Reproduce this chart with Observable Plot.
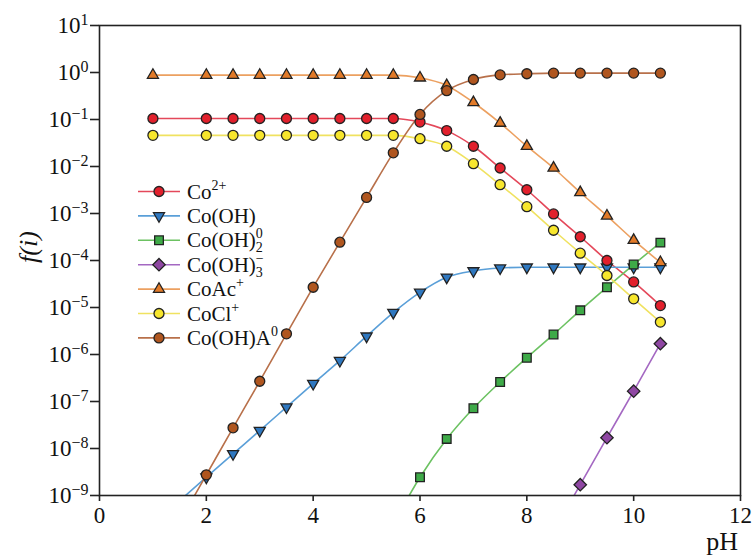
<!DOCTYPE html>
<html><head><meta charset="utf-8">
<script src="https://cdn.jsdelivr.net/npm/d3@7"></script>
<script src="https://cdn.jsdelivr.net/npm/@observablehq/plot@0.6"></script>
<style>html,body{margin:0;padding:0;background:#fff} svg{display:block} #chart svg, #chart svg text {font-family: "Liberation Serif", Tinos, "Times New Roman", serif !important;}</style>
</head><body><div id="chart"></div>
<script>
// ---- data ----
const pH = [1, 2, 2.5, 3, 3.5, 4, 4.5, 5, 5.5, 6, 6.5, 7, 7.5, 8, 8.5, 9, 9.5, 10, 10.5];
const co2   = [0.105, 0.105, 0.105, 0.105, 0.105, 0.105, 0.105, 0.105, 0.105, 0.088, 0.058, 0.027, 0.0093, 0.0032, 9.8e-4, 3.2e-4, 1.0e-4, 3.5e-5, 1.1e-5];
const coOH  = [2.45e-10, 2.45e-9, 7.7e-9, 2.4e-8, 7.6e-8, 2.4e-7, 7.4e-7, 2.45e-6, 7.8e-6, 2.1e-5, 4.4e-5, 6.0e-5, 6.9e-5, 7.2e-5, 7.2e-5, 7.2e-5, 7.2e-5, 7.2e-5, 7.2e-5];
const coOH2 = [null, null, null, null, null, null, null, null, 2.45e-10, 2.45e-9, 1.6e-8, 7.2e-8, 2.6e-7, 8.5e-7, 2.67e-6, 8.7e-6, 2.7e-5, 8.2e-5, 2.4e-4];
const coOH3 = [null, null, null, null, null, null, null, null, null, null, null, null, null, null, 1.7e-10, 1.7e-9, 1.7e-8, 1.66e-7, 1.7e-6];
const coAc  = [0.88, 0.88, 0.88, 0.88, 0.88, 0.88, 0.88, 0.88, 0.88, 0.77, 0.53, 0.23, 0.084, 0.027, 0.0093, 0.0028, 8.9e-4, 2.7e-4, 9.1e-5];
const coCl  = [0.046, 0.046, 0.046, 0.046, 0.046, 0.046, 0.046, 0.046, 0.046, 0.039, 0.027, 0.0115, 0.0041, 0.0014, 4.4e-4, 1.43e-4, 4.8e-5, 1.53e-5, 4.9e-6];
const coOHA = [2.75e-11, 2.75e-9, 2.75e-8, 2.7e-7, 2.75e-6, 2.7e-5, 2.45e-4, 2.2e-3, 0.0195, 0.128, 0.41, 0.71, 0.89, 0.94, 0.97, 0.97, 0.97, 0.97, 0.97];

const xTicks = [0, 2, 4, 6, 8, 10, 12];
const yExponents = [1, 0, -1, -2, -3, -4, -5, -6, -7, -8, -9];
const xLabel = "pH";

// ---- styles ----
const FONT = '"Liberation Serif", Tinos, "Times New Roman", serif';
const triDown = {
  draw(ctx, size) {
    const y = -Math.sqrt(size / (Math.sqrt(3) * 3));
    ctx.moveTo(0, -y * 2);
    ctx.lineTo(-Math.sqrt(3) * y, y);
    ctx.lineTo(Math.sqrt(3) * y, y);
    ctx.closePath();
  }
};
const symbols = {circle: d3.symbolCircle, triangle: d3.symbolTriangle, square: d3.symbolSquare, diamond: d3.symbolDiamond2, triDown};

const series = [
  {values: co2,   parts: [["Co"], ["2+", "sup"]],                           fill: "#e2202c", line: "#e4485a", sym: "circle",   r: 5.0},
  {values: coOH,  parts: [["Co(OH)"]],                                      fill: "#2f78c0", line: "#5a9fd8", sym: "triDown",  r: 4.1},
  {values: coOH2, parts: [["Co(OH)"], ["2", "sub"], ["0", "supback"]],      fill: "#3eaa48", line: "#6cc262", sym: "square",   r: 4.9},
  {values: coOH3, parts: [["Co(OH)"], ["3", "sub"], ["\u2212", "supback"]], fill: "#8f47a3", line: "#a468c2", sym: "diamond",  r: 5.6},
  {values: coAc,  parts: [["CoAc"], ["+", "sup"]],                          fill: "#e27a28", line: "#eca060", sym: "triangle", r: 4.1},
  {values: coCl,  parts: [["CoCl"], ["+", "sup"]],                          fill: "#f7e62c", line: "#f0e260", sym: "circle",   r: 5.0},
  {values: coOHA, parts: [["Co(OH)A"], ["0", "sup"]],                       fill: "#b0561f", line: "#b8704a", sym: "circle",   r: 5.0}
];
series.forEach(s => { s.rows = pH.map((x, i) => ({pH: x, f: s.values[i]})).filter(d => d.f != null); });

const dotOrder = [1, 2, 3, 0, 5, 4, 6];

const marks = [
  ...series.map(s => Plot.line(s.rows, {x: "pH", y: "f", stroke: s.line, strokeWidth: 1.6, curve: "monotone-x", clip: true})),
  ...dotOrder.map(i => {
    const s = series[i];
    return Plot.dot(s.rows, {x: "pH", y: "f", symbol: symbols[s.sym], r: s.r, fill: s.fill, stroke: "#222", strokeWidth: 1.3, clip: true});
  }),
  Plot.frame({stroke: "#222", strokeWidth: 1.6}),
  Plot.axisX({ticks: xTicks, tickSize: 6, tickPadding: 5, label: null, strokeWidth: 1.6, stroke: "#222", tickFormat: d => String(d)}),
  Plot.axisY({ticks: yExponents.map(e => Math.pow(10, e)), tickSize: 9, tickPadding: 2, label: null, strokeWidth: 1.6, stroke: "#222",
              tickFormat: d => String(Math.round(Math.log10(d)))})
];

const svg = Plot.plot({
  width: 754, height: 555,
  marginLeft: 99, marginRight: 14, marginTop: 25, marginBottom: 60,
  x: {domain: [0, 12]},
  y: {type: "log", domain: [1e-9, 10]},
  style: {fontSize: "23px", color: "#111", background: "#fff"},
  marks
});
document.getElementById("chart").appendChild(svg);

const S = d3.select(svg);
S.attr("font-family", FONT).style("font-family", FONT);
// y tick labels as 10 with superscript exponents
S.selectAll('g[aria-label="y-axis tick label"] text').each(function () {
  const ex = this.textContent.replace("-", "\u2212");
  this.textContent = "10";
  d3.select(this).append("tspan").attr("dy", "-0.5em").attr("font-size", "16px").text(ex);
});

// axis titles
S.append("text").attr("x", 738).attr("y", 550).attr("text-anchor", "end")
  .attr("font-size", 26).attr("fill", "#111").text(xLabel);
const yl = S.append("text").attr("transform", "translate(37,247) rotate(-90)")
  .attr("text-anchor", "middle").attr("font-size", 26).attr("fill", "#111").attr("font-style", "italic");
yl.append("tspan").text("f");
yl.append("tspan").text("(");
yl.append("tspan").text("i");
yl.append("tspan").text(")");

// legend
const lg = S.append("g").attr("font-size", 21).attr("fill", "#111").attr("text-anchor", "start");
series.forEach((s, i) => {
  const y = 191.5 + i * 24.4;
  lg.append("line").attr("x1", 138).attr("x2", 180).attr("y1", y).attr("y2", y)
    .attr("stroke", s.line).attr("stroke-width", 1.6);
  lg.append("path").attr("transform", `translate(159,${y})`)
    .attr("d", d3.symbol(symbols[s.sym], s.r * s.r * Math.PI)())
    .attr("fill", s.fill).attr("stroke", "#222").attr("stroke-width", 1.3);
  const t = lg.append("text").attr("x", 187).attr("y", y + 7).attr("text-anchor", "start");
  let shift = 0;
  s.parts.forEach(([txt, kind]) => {
    const sp = t.append("tspan").text(txt);
    if (kind === "sup") { sp.attr("font-size", 14).attr("dy", -9 - shift); shift = -9; }
    else if (kind === "sub") { sp.attr("font-size", 14).attr("dy", 5 - shift); shift = 5; }
    else if (kind === "supback") { sp.attr("font-size", 14).attr("dx", -7).attr("dy", -9 - shift); shift = -9; }
    else if (shift) { sp.attr("dy", -shift); shift = 0; }
  });
});
</script>
</body></html>
